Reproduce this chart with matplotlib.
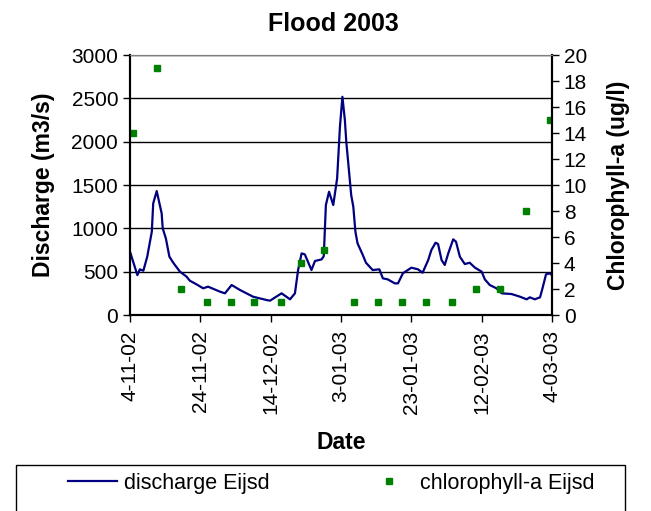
import matplotlib
matplotlib.use("Agg")
import matplotlib.pyplot as plt
import matplotlib.patches as patches
import pandas as pd

plt.rcParams['font.family'] = ['Liberation Sans', 'DejaVu Sans']

start = pd.Timestamp('2002-11-04')

# discharge Eijsd, day offset from 4-11-02 and m3/s
q_days = [0, 2.1, 2.8, 3.8, 4.9, 6.2, 6.6, 7.6, 9.0, 9.3, 10.2, 11.2, 12.3, 14.2,
          16.1, 17.0, 18.9, 20.8, 22.2, 25.6, 27.0, 28.9, 31.3, 35.0, 38.8, 39.8,
          43.1, 45.5, 46.9, 47.8, 48.8, 49.7, 51.6, 52.6, 54.5, 55.1, 55.7, 56.6,
          57.8, 58.9, 59.7, 60.4, 61.1, 61.5, 62.9, 63.5, 64.1, 64.7, 66.2, 67.1,
          69.0, 70.9, 71.9, 73.3, 75.3, 76.2, 77.6, 80.0, 81.9, 83.2, 84.8, 85.7,
          86.9, 87.6, 88.6, 89.5, 90.5, 91.9, 92.7, 93.8, 95.2, 96.6, 98.1, 100.0,
          100.9, 102.3, 104.2, 105.7, 108.5, 110.9, 112.8, 113.7, 115.1, 116.6,
          117.3, 118.3, 119.4, 119.9]
q_vals = [730, 460, 527, 511, 673, 961, 1288, 1430, 1173, 1000, 884, 673, 603, 500,
          442, 396, 354, 308, 327, 269, 250, 346, 288, 211, 173, 165,
          250, 181, 250, 519, 711, 700, 519, 623, 642, 680, 1269, 1422,
          1269, 1577, 2172, 2518, 2249, 2000, 1384, 1249, 961, 827, 692, 603,
          519, 527, 423, 411, 365, 365, 481, 546, 527, 488, 634, 750,
          834, 819, 634, 577, 711, 873, 846, 673, 588, 603, 546, 500,
          411, 346, 308, 250, 242, 211, 181, 204, 181, 204,
          308, 469, 481, 461]

# chlorophyll-a Eijsd, ug/l
chl_days = [0.8, 7.6, 14.4, 21.8, 28.6, 35.4, 42.8, 48.5, 55.3, 63.8, 70.6, 77.4,
            84.2, 91.6, 98.4, 105.2, 112.6, 119.5]
chl_vals = [14, 19, 2, 1, 1, 1, 1, 4, 5, 1, 1, 1, 1, 1, 2, 2, 8, 15]

tick_days = [0, 20, 40, 60, 80, 100, 120]

q_dates = start + pd.to_timedelta(q_days, unit='D')
chl_dates = start + pd.to_timedelta(chl_days, unit='D')
tick_dates = start + pd.to_timedelta(tick_days, unit='D')

fig = plt.figure(figsize=(6.51, 5.11), dpi=100)
ax = fig.add_axes([130 / 651, 1 - 315 / 511, 422 / 651, 260 / 511])
ax2 = ax.twinx()

line, = ax.plot(q_dates, q_vals, color='#000080', lw=1.6, label='discharge Eijsd')
pts, = ax2.plot(chl_dates, chl_vals, ls='none', marker='s', ms=5, color='#008000',
                label='chlorophyll-a Eijsd')

ax.set_xlim(tick_dates[0], tick_dates[-1])
ax.set_ylim(0, 3000)
ax2.set_ylim(0, 20)
ax.set_yticks(range(0, 3001, 500))
ax2.set_yticks(range(0, 21, 2))
ax.set_xticks(tick_dates)
ax.set_xticklabels([f"{d.day}-{d.month:02d}-{d.year % 100:02d}" for d in tick_dates],
                   rotation=90)

ax.yaxis.grid(True, color='black', lw=1)
ax.set_axisbelow(True)

for a in (ax, ax2):
    a.tick_params(labelsize=15, direction='out', length=5, width=1)
    a.spines['top'].set_color('#808080')
    for s in ('left', 'right', 'bottom'):
        a.spines[s].set_linewidth(1.5)
ax.tick_params(axis='x', pad=6)

ax.set_title('Flood 2003', fontsize=18, fontweight='bold', pad=17, x=0.483)
ax.set_ylabel('Discharge (m3/s)', fontsize=16.5, fontweight='bold', labelpad=12)
ax2.set_ylabel('Chlorophyll-a (ug/l)', fontsize=16.5, fontweight='bold', rotation=90,
               labelpad=14)
ax.set_xlabel('Date', fontsize=16.5, fontweight='bold', labelpad=12)

# legend box runs off the bottom of the figure
fig.patches.append(patches.Rectangle((16 / 651, -0.1), 609 / 651, 0.1 + 46 / 511,
                                     transform=fig.transFigure, fill=False,
                                     edgecolor='black', lw=1))
fig.legend(handles=[line, pts], loc='center left', bbox_to_anchor=(57 / 651, 1 - 483 / 511),
           ncol=2, frameon=False, fontsize=15.5, borderpad=0, handlelength=2.3,
           handletextpad=0.3, columnspacing=4.4, markerscale=0.9)

fig.savefig('out.png', dpi=100)
